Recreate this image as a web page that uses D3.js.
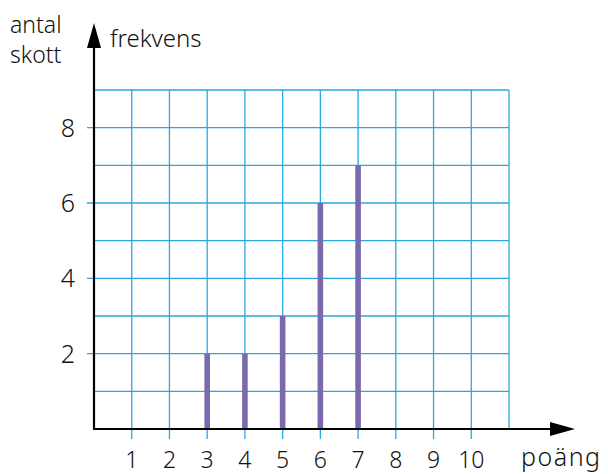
<!DOCTYPE html>
<html>
<head>
<meta charset="utf-8">
<script src="https://cdn.jsdelivr.net/npm/d3@7"></script>
<style>
body { margin: 0; background: #fff; }
text { font-family: "Noto Sans", sans-serif; fill: #111; font-weight: 300; }
</style>
</head>
<body>
<svg></svg>
<script>
var points = [1, 2, 3, 4, 5, 6, 7, 8, 9, 10];
var counts = [0, 0, 2, 2, 3, 6, 7, 0, 0, 0];
var yTicks = [2, 4, 6, 8];

var svgWidth = 608, svgHeight = 474;
var svg = d3.select('svg')
    .attr("width", svgWidth)
    .attr("height", svgHeight);

var x = d3.scaleLinear().domain([0, 11]).range([94, 509]);
var y = d3.scaleLinear().domain([0, 9]).range([429, 90]);
var gridColor = "#2aa8e0";

// vertical grid lines (reach a bit below the axis as ticks)
svg.selectAll(".vgrid")
    .data(d3.range(1, 12))
    .enter()
    .append("line")
    .attr("x1", function(d) { return x(d); })
    .attr("x2", function(d) { return x(d); })
    .attr("y1", y(9))
    .attr("y2", function(d) { return d <= 10 ? 439 : y(0); })
    .attr("stroke", gridColor)
    .attr("stroke-width", 1.3);

// horizontal grid lines
svg.selectAll(".hgrid")
    .data(d3.range(1, 10))
    .enter()
    .append("line")
    .attr("x1", function(d) { return d % 2 == 0 && d < 9 ? 87 : x(0); })
    .attr("x2", x(11))
    .attr("y1", function(d) { return y(d); })
    .attr("y2", function(d) { return y(d); })
    .attr("stroke", gridColor)
    .attr("stroke-width", 1.3);

// bars
var bars = points.map(function(p, i) { return { p: p, n: counts[i] }; })
    .filter(function(d) { return d.n > 0; });

svg.selectAll(".bar")
    .data(bars)
    .enter()
    .append("rect")
    .attr("x", function(d) { return x(d.p) - 2.8; })
    .attr("y", function(d) { return y(d.n); })
    .attr("width", 5.6)
    .attr("height", function(d) { return y(0) - y(d.n); })
    .attr("fill", "#7a69ad");

// axes
svg.append("line")
    .attr("x1", x(0)).attr("x2", 556)
    .attr("y1", y(0)).attr("y2", y(0))
    .attr("stroke", "#000").attr("stroke-width", 2.2);
svg.append("path")
    .attr("d", "M575," + y(0) + " L550," + (y(0) - 7) + " L550," + (y(0) + 7) + "Z")
    .attr("fill", "#000");
svg.append("line")
    .attr("x1", x(0)).attr("x2", x(0))
    .attr("y1", y(0) + 1).attr("y2", 42)
    .attr("stroke", "#000").attr("stroke-width", 2.2);
svg.append("path")
    .attr("d", "M" + x(0) + ",23 L" + (x(0) - 7) + ",48 L" + (x(0) + 7) + ",48Z")
    .attr("fill", "#000");

// tick labels
svg.selectAll(".xl")
    .data(points)
    .enter()
    .append("text")
    .attr("x", function(d) { return x(d); })
    .attr("y", 468)
    .attr("text-anchor", "middle")
    .attr("font-size", 23)
    .text(function(d) { return d; });

svg.selectAll(".yl")
    .data(yTicks)
    .enter()
    .append("text")
    .attr("x", 68)
    .attr("y", function(d) { return y(d) + 9; })
    .attr("text-anchor", "middle")
    .attr("font-size", 25)
    .text(function(d) { return d; });

// titles
svg.append("text").attr("x", 10).attr("y", 33).attr("font-size", 23).text("antal");
svg.append("text").attr("x", 10).attr("y", 63).attr("font-size", 23).text("skott");
svg.append("text").attr("x", 110).attr("y", 47).attr("font-size", 24).text("frekvens");
svg.append("text").attr("x", 521).attr("y", 466).attr("font-size", 25)
    .attr("letter-spacing", 1.5).text("poäng");
</script>
</body>
</html>
